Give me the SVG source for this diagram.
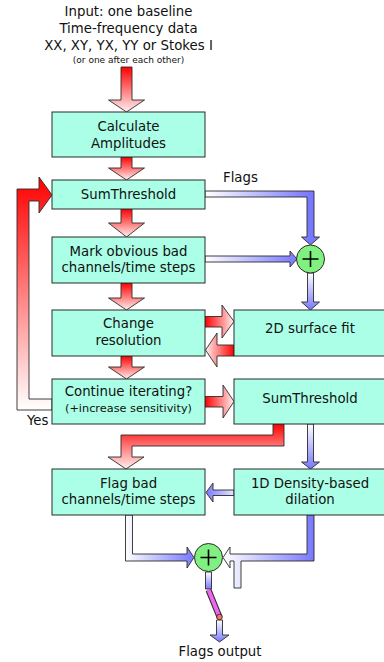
<svg xmlns="http://www.w3.org/2000/svg" width="384" height="662" viewBox="0 0 384 662">
<defs>
<linearGradient id="rv" x1="0" y1="0" x2="0" y2="1"><stop offset="0" stop-color="#ff0000"/><stop offset="1" stop-color="#fff0f0"/></linearGradient>
<linearGradient id="rh" x1="0" y1="0" x2="1" y2="0"><stop offset="0" stop-color="#ff0000"/><stop offset="1" stop-color="#fff0f0"/></linearGradient>
<linearGradient id="rhl" x1="1" y1="0" x2="0" y2="0"><stop offset="0" stop-color="#ff0000"/><stop offset="1" stop-color="#fff0f0"/></linearGradient>
<linearGradient id="loopg" gradientUnits="userSpaceOnUse" x1="0" y1="177" x2="0" y2="410"><stop offset="0" stop-color="#ff0000"/><stop offset="1" stop-color="#ffffff"/></linearGradient>
<linearGradient id="bendg" gradientUnits="userSpaceOnUse" x1="0" y1="424" x2="0" y2="469"><stop offset="0" stop-color="#ff0000"/><stop offset="1" stop-color="#fff0f0"/></linearGradient>
<linearGradient id="b1" gradientUnits="userSpaceOnUse" x1="205" y1="0" x2="310" y2="0"><stop offset="0" stop-color="#ffffff"/><stop offset="1" stop-color="#7878ff"/></linearGradient>
<linearGradient id="b2" gradientUnits="userSpaceOnUse" x1="205" y1="0" x2="297" y2="0"><stop offset="0" stop-color="#ffffff"/><stop offset="1" stop-color="#7878ff"/></linearGradient>
<linearGradient id="bv" x1="0" y1="0" x2="0" y2="1"><stop offset="0" stop-color="#ffffff"/><stop offset="1" stop-color="#7878ff"/></linearGradient>
<linearGradient id="b3" gradientUnits="userSpaceOnUse" x1="234" y1="0" x2="206" y2="0"><stop offset="0" stop-color="#e8e8ff"/><stop offset="1" stop-color="#7878ff"/></linearGradient>
<linearGradient id="b4" gradientUnits="userSpaceOnUse" x1="125" y1="0" x2="194" y2="0"><stop offset="0" stop-color="#ffffff"/><stop offset="1" stop-color="#7878ff"/></linearGradient>
<linearGradient id="b5" gradientUnits="userSpaceOnUse" x1="223" y1="0" x2="314" y2="0"><stop offset="0" stop-color="#ffffff"/><stop offset="1" stop-color="#7878ff"/></linearGradient>
</defs>
<style>
text{font-family:"DejaVu Sans","Liberation Sans",sans-serif;font-size:13.3px;fill:#111;text-anchor:middle}
.sm{font-size:11.3px}
.xs{font-size:9px}
.st{text-anchor:start}
.box{fill:#aaffe6;stroke:#2b2b2b;stroke-width:1}
.ar{stroke:#2b2b2b;stroke-width:0.9;stroke-linejoin:miter}
.sum{fill:#80f080;stroke:#2b2b2b;stroke-width:1}
.plus{stroke:#000;stroke-width:1.6}
</style>
<rect width="384" height="662" fill="#ffffff"/>
<g id="input">
<text x="128.5" y="16">Input: one baseline</text>
<text x="128.5" y="33">Time-frequency data</text>
<text x="128.5" y="50">XX, XY, YX, YY or Stokes I</text>
<text class="xs" x="128.5" y="63">(or one after each other)</text>
</g>
<g id="connectors">
<path class="ar" fill="url(#rv)" d="M121,67 H132 V100 H144.5 L126.5,112 L108.5,100 H121 Z"/>
<path class="ar" fill="url(#rv)" d="M121,157 H132 V168 H144.5 L126.5,180 L108.5,168 H121 Z"/>
<path class="ar" fill="url(#rv)" d="M121,209 H132 V223 H144.5 L126.5,237 L108.5,223 H121 Z"/>
<path class="ar" fill="url(#rv)" d="M121,283 H132 V298 H144.5 L126.5,310 L108.5,298 H121 Z"/>
<path class="ar" fill="url(#rv)" d="M121,356 H132 V367 H144.5 L126.5,379 L108.5,367 H121 Z"/>
<path class="ar" fill="url(#loopg)" d="M52,410 H17 V189 H39 V177 L52,195 L39,213 V201 H29 V399 H52 Z"/>
<path class="ar" fill="url(#rh)" d="M205,316.5 H222 V305 L234,321.5 L222,338 V327 H205 Z"/>
<path class="ar" fill="url(#rhl)" d="M234,345 H217 V333 L205.5,350 L217,367 V356 H234 Z"/>
<path class="ar" fill="url(#rh)" d="M205,396.5 H223 V385 L234,401.5 L223,418 V407 H205 Z"/>
<path class="ar" fill="url(#bendg)" d="M273,424 H284 V446 H132 V457 H144 L126,469 L108,457 H121 V435 H273 Z"/>
<path class="ar" fill="url(#b1)" d="M205,191 H314 V237 H319.5 L310.5,245 L301.5,237 H307 V197 H205 Z"/>
<path class="ar" fill="url(#b2)" d="M205,256 H290 V251 L297,259 L290,267 V262 H205 Z"/>
<path class="ar" fill="url(#bv)" d="M307.5,273 H313.5 V302 H319.5 L310.5,310 L301.5,302 H307.5 Z"/>
<path class="ar" fill="url(#bv)" d="M307.5,424 H313.5 V462 H319.5 L310.5,469 L301.5,462 H307.5 Z"/>
<path class="ar" fill="url(#b3)" d="M234,490 H213 V483 L206,492.5 L213,502 V495.5 H234 Z"/>
<path class="ar" fill="url(#b4)" d="M125.5,515 H132.5 V554 H187 V547 L194,557.5 L187,568 V561 H125.5 Z"/>
<path class="ar" fill="url(#b5)" d="M314,515 V561 H241 V588 H234 V561 H230 V568 L223,557.5 L230,547 V554 H307 V515 Z"/>
<path class="ar" fill="url(#bv)" d="M205.5,572 H211.5 V589 H205.5 Z"/>
<line x1="208.5" y1="590" x2="219.5" y2="617" stroke="#2b2b2b" stroke-width="6"/>
<line x1="208.5" y1="590" x2="219.5" y2="617" stroke="#ee66ee" stroke-width="4"/>
<path class="ar" fill="url(#bv)" d="M216.5,620 H222.5 V635 H229 L219.5,642 L210,635 H216.5 Z"/>
<circle cx="219.5" cy="617" r="2.8" fill="#ff6f6f" stroke="#2b2b2b" stroke-width="0.9"/>
</g>
<g id="calc"><rect class="box" x="52" y="112" width="153" height="45"/><text x="128.5" y="131">Calculate</text><text x="128.5" y="148">Amplitudes</text></g>
<g id="sumthreshold1"><rect class="box" x="52" y="180" width="153" height="29"/><text x="128.5" y="199">SumThreshold</text></g>
<g id="mark"><rect class="box" x="52" y="237" width="153" height="46"/><text x="128.5" y="256">Mark obvious bad</text><text x="128.5" y="272">channels/time steps</text></g>
<g id="change"><rect class="box" x="52" y="310" width="153" height="46"/><text x="128.5" y="328">Change</text><text x="128.5" y="345">resolution</text></g>
<g id="continue"><rect class="box" x="52" y="379" width="153" height="45"/><text x="128.5" y="396">Continue iterating?</text><text class="sm" x="128.5" y="411.5">(+increase sensitivity)</text></g>
<g id="flagbad"><rect class="box" x="52" y="469" width="153" height="46"/><text x="128.5" y="488">Flag bad</text><text x="128.5" y="504">channels/time steps</text></g>
<g id="surfacefit"><rect class="box" x="234" y="310" width="152" height="46"/><text x="310" y="333">2D surface fit</text></g>
<g id="sumthreshold2"><rect class="box" x="234" y="379" width="152" height="45"/><text x="310" y="403">SumThreshold</text></g>
<g id="dilation"><rect class="box" x="234" y="469" width="152" height="46"/><text x="310" y="488">1D Density-based</text><text x="310" y="504">dilation</text></g>
<g id="or1"><circle class="sum" cx="310.5" cy="259" r="14"/><path class="plus" d="M302.5,259 H318.5 M310.5,251 V267"/></g>
<g id="or2"><circle class="sum" cx="208.5" cy="557.5" r="14"/><path class="plus" d="M200.5,557.5 H216.5 M208.5,549.5 V565.5"/></g>
<g id="labels">
<text class="st" x="223" y="182">Flags</text>
<text class="st" x="27" y="425">Yes</text>
<text x="220" y="656">Flags output</text>
</g>
</svg>
